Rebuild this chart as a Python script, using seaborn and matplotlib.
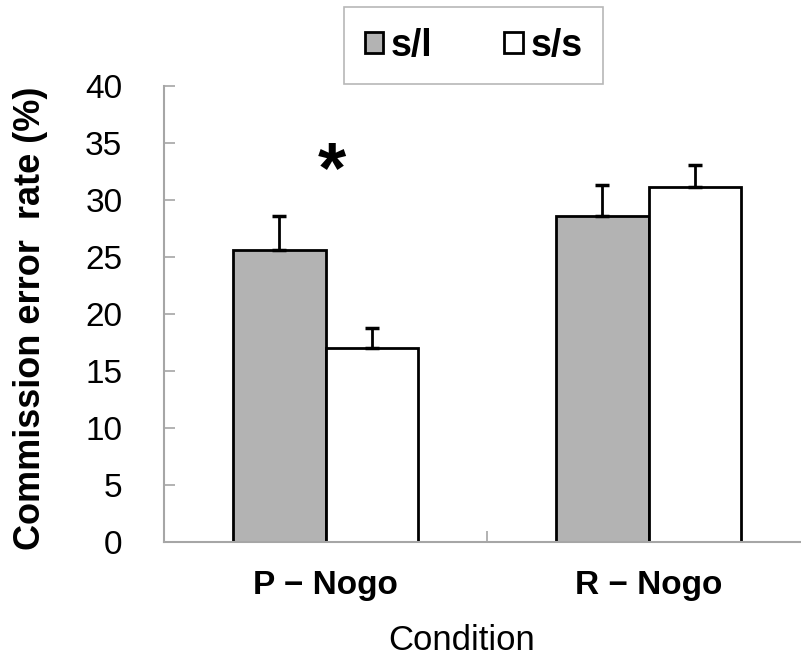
import pandas as pd
import matplotlib
matplotlib.use("Agg")
import matplotlib.pyplot as plt
import seaborn as sns

conditions = ["P − Nogo", "R − Nogo"]
groups = ["s/l", "s/s"]
sl_means = [25.6, 28.6]
ss_means = [17.0, 31.1]
sl_err = [3.0, 2.7]
ss_err = [1.8, 2.0]

df = pd.DataFrame({
    "Condition": conditions * 2,
    "group": [groups[0]] * 2 + [groups[1]] * 2,
    "rate": sl_means + ss_means,
})

sns.set_style("white")
plt.rcParams["font.family"] = ["Liberation Sans", "DejaVu Sans"]
plt.rcParams["text.color"] = "black"
plt.rcParams["axes.labelcolor"] = "black"
plt.rcParams["xtick.color"] = "black"
plt.rcParams["ytick.color"] = "black"

fig = plt.figure(figsize=(8.01, 6.57), dpi=100)
ax = fig.add_axes([164 / 801, 115 / 657, 646 / 801, 456 / 657])

sns.barplot(data=df, x="Condition", y="rate", hue="group", hue_order=groups,
            palette=["#b3b3b3", "white"], width=0.57, edgecolor="black",
            linewidth=2, errorbar=None, ax=ax)

# upward-only error bars on top of each bar
for cont, errs in zip(ax.containers, [sl_err, ss_err]):
    for bar, e in zip(cont, errs):
        xc = bar.get_x() + bar.get_width() / 2
        h = bar.get_height()
        ax.errorbar(xc, h, yerr=[[0], [e]], fmt="none", ecolor="black",
                    elinewidth=2, capsize=5, capthick=2.5, zorder=1)

ax.text(0.02, 32.4, "*", fontsize=52, fontweight="bold", ha="center", va="center")

ax.set_ylim(0, 40)
ax.set_xlim(-0.5, 1.5)
ax.set_yticks(range(0, 41, 5))
ax.tick_params(axis="y", labelsize=24, length=8, width=1.2, color="#a6a6a6",
               labelcolor="black", direction="in", pad=30, left=True)
ax.tick_params(axis="x", labelsize=24, length=0, pad=20, labelcolor="black")
for lab in ax.get_xticklabels():
    lab.set_fontweight("bold")
ax.set_xticks([0.5], minor=True)
ax.tick_params(axis="x", which="minor", direction="in", length=8, width=1.2,
               color="#a6a6a6", bottom=True)

for s in ["top", "right"]:
    ax.spines[s].set_visible(False)
for s in ["left", "bottom"]:
    ax.spines[s].set_color("#a6a6a6")
    ax.spines[s].set_linewidth(1.5)

ax.set_ylabel("Commission error  rate (%)", fontsize=26, fontweight="bold")
ax.yaxis.set_label_coords(-0.18, 0.49)
ax.set_xlabel("Condition", fontsize=25)
ax.xaxis.set_label_coords(0.46, -0.18)

handles, labels = ax.get_legend_handles_labels()
ax.get_legend().remove()
leg = fig.legend(handles, labels, loc="upper left", ncol=2, mode="expand",
                 bbox_to_anchor=(344 / 801, 1 - 80 / 657, 259 / 801, 73 / 657),
                 prop={"size": 27, "weight": "bold"}, frameon=True, fancybox=False,
                 handlelength=0.5, handleheight=0.5, handletextpad=0.2,
                 columnspacing=1.0, borderpad=0.55, borderaxespad=0)
leg.get_frame().set_edgecolor("#a6a6a6")
leg.get_frame().set_linewidth(1.2)

fig.savefig("out.png", dpi=100)
